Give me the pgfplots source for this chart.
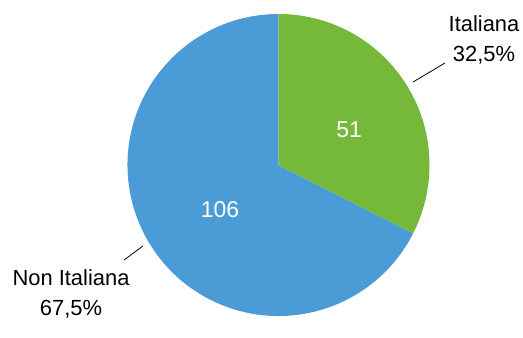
\documentclass[border=0pt]{standalone}
\usepackage{pgfplots}
\pgfplotsset{compat=1.18}
\usepackage{pgfplotstable}
\usepackage{fontspec}
\setmainfont{Liberation Sans}
\definecolor{pieGreen}{RGB}{118,184,58}
\definecolor{pieBlue}{RGB}{74,155,214}
\pgfplotstableread{
label value
Italiana 51
NonItaliana 106
}\piedata
\pgfplotstablegetelem{0}{value}\of\piedata \let\valA\pgfplotsretval
\pgfplotstablegetelem{1}{value}\of\piedata \let\valB\pgfplotsretval
\pgfmathsetmacro{\fracA}{\valA/(\valA+\valB)}
\pgfmathsetmacro{\angA}{90-360*\fracA}
\begin{document}
\begin{tikzpicture}
\begin{axis}[x=1bp,y=1bp,xmin=0,xmax=523,ymin=0,ymax=318,
  hide axis, clip=false, scale only axis]
\path (axis cs:0,0) rectangle (axis cs:523,318);
\fill[pieBlue] (axis cs:278.5,153) -- ++(\angA:151bp) arc[start angle=\angA, end angle=-270, radius=151bp] -- cycle;
\fill[pieGreen] (axis cs:278.5,153) -- ++(90:151bp) arc[start angle=90, end angle=\angA, radius=151bp] -- cycle;
\node[white, font=\fontsize{23}{26}\selectfont] at (axis cs:349,188) {\valA};
\node[white, font=\fontsize{23}{26}\selectfont] at (axis cs:220,108) {\valB};
\node[align=center, font=\fontsize{22}{31}\selectfont] at (axis cs:484,278) {Italiana\\32,5\%};
\node[align=center, font=\fontsize{22}{31}\selectfont] at (axis cs:71,24) {Non Italiana\\67,5\%};
\draw[black, line width=0.8pt] (axis cs:413,236) -- (axis cs:445,255);
\draw[black, line width=0.8pt] (axis cs:124,58) -- (axis cs:143,72);
\end{axis}
\end{tikzpicture}
\end{document}
